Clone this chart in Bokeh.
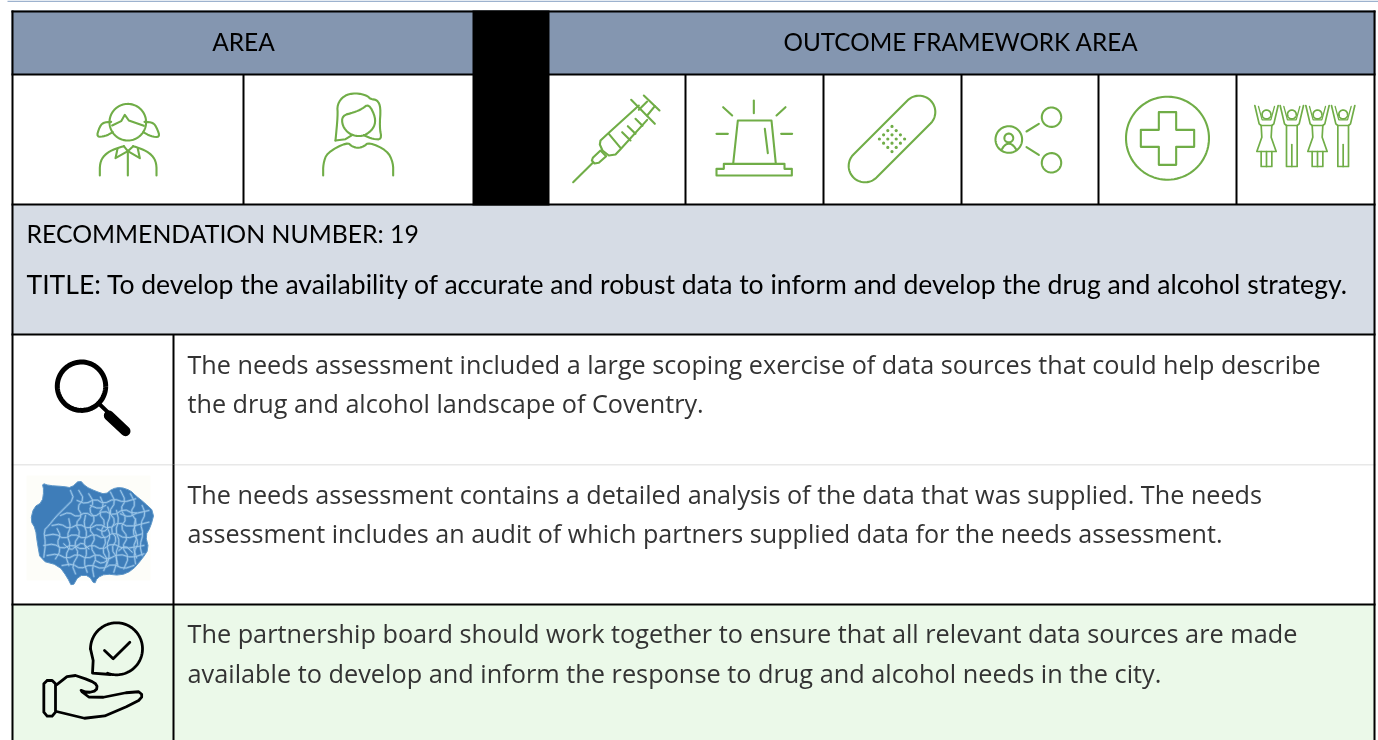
import numpy as np
from bokeh.embed import file_html
from bokeh.models import Range1d
from bokeh.plotting import figure
from bokeh.resources import INLINE
from bokeh.core.properties import value

# ---- content ----
header_labels = ["AREA", "OUTCOME FRAMEWORK AREA"]
recommendation = "RECOMMENDATION NUMBER: 19"
title_line = "TITLE: To develop the availability of accurate and robust data to inform and develop the drug and alcohol strategy."
body_lines = [
    "The needs assessment included a large scoping exercise of data sources that could help describe",
    "the drug and alcohol landscape of Coventry.",
    "The needs assessment contains a detailed analysis of the data that was supplied. The needs",
    "assessment includes an audit of which partners supplied data for the needs assessment.",
    "The partnership board should work together to ensure that all relevant data sources are made",
    "available to develop and inform the response to drug and alcohol needs in the city.",
]

# ---- table grid ----
L, R, T = 11, 1375, 10
icon_dividers = [243, 685, 823, 961, 1098, 1236]
H1, H2, H3, H4, H5 = 74, 204, 334, 464, 604
BLACK, GREEN, HEAD, BAND, PALE = "#000000", "#70AD47", "#8496B0", "#D6DCE5", "#EBF9E9"
HEAD_FONT, BODY_FONT = "Lato", "Open Sans"

p = figure(width=1378, height=740, x_range=Range1d(0, 1378), y_range=Range1d(740, 0),
           output_backend="svg", toolbar_location=None, min_border=0,
           x_axis_type=None, y_axis_type=None, outline_line_color=None,
           background_fill_color="white", border_fill_color="white",
           styles={"position": "fixed", "left": "0", "top": "0"})
p.grid.visible = False


def box(x0, y0, x1, y1, c):
    p.quad(left=[x0], right=[x1], top=[y0], bottom=[y1], fill_color=c, line_color=None)


def chaikin(a, closed, n=2):
    for _ in range(n):
        b = np.roll(a, -1, axis=0) if closed else a[1:]
        c = a if closed else a[:-1]
        q, r = 0.75 * c + 0.25 * b, 0.25 * c + 0.75 * b
        mid = np.empty((2 * len(q), 2))
        mid[0::2], mid[1::2] = q, r
        a = mid if closed else np.vstack([a[0], mid, a[-1]])
    return a


def path(pts, c=GREEN, w=2.1, ox=0.0, oy=0.0, s=1 / 3, close=False, smooth=0):
    a = np.array(pts, dtype=float)
    if smooth:
        a = chaikin(a, close, smooth)
    if close:
        a = np.vstack([a, a[0]])
    p.line(a[:, 0] * s + ox, a[:, 1] * s + oy, line_color=c, line_width=w,
           line_join="round", line_cap="round")


def circle(cx, cy, r, c=GREEN, w=2.1):
    t = np.linspace(0, 2 * np.pi, 90)
    p.line(cx + r * np.cos(t), cy + r * np.sin(t), line_color=c, line_width=w)


# ---- fills ----
box(7, 0, 1378, 1.5, "#9DB2CE")
box(L, T, R, H1, HEAD)
box(L, H3, R, 740, "white")
box(L, H2, R, H3, BAND)
box(L, H5, R, 740, PALE)

# ---- rules ----
box(L, T, R, T + 2, BLACK)
box(L, H1 - 1, R, H1 + 1, BLACK)
box(L, H2 - 1, R, H2 + 1, BLACK)
box(L, H3 - 1, R, H3 + 1, BLACK)
box(L, H4 - 0.5, R, H4 + 1, "#E8E8E8")
box(L, H5 - 1, R, H5 + 1, BLACK)
box(L, T, L + 2, 740, BLACK)
box(R - 2, T, R, 740, BLACK)
box(472, T, 549, H2 + 1, BLACK)
for d in icon_dividers:
    box(d - 1, H1, d + 1, H2, BLACK)
box(172, H3, 174, H4, BLACK)
box(172, H4, 174, 740, BLACK)

# ---- girl ----
circle(127.3, 121.7, 18.3)
path([(335, 375), (362, 362), (373, 343), (385, 360), (430, 376)])
path([(332, 364), (307, 366), (296, 382), (288, 410), (315, 407), (337, 395)], smooth=2)
path([(432, 364), (458, 366), (469, 382), (479, 411), (450, 407), (428, 395)], smooth=2)
path([(298, 525), (298, 488), (310, 465), (335, 448), (370, 437)], smooth=2)
path([(468, 525), (468, 488), (456, 465), (431, 448), (398, 437)], smooth=2)
path([(351, 445), (345, 473), (382, 452), (418, 473), (412, 445)])
path([(370, 437), (382, 452), (398, 437)])
path([(382, 452), (382, 525)])

# ---- woman ----
path([(1005, 420), (1012, 345), (1010, 312), (1030, 285), (1065, 277), (1100, 285), (1110, 296),
      (1130, 298), (1141, 320), (1137, 380), (1144, 417), (1118, 416), (1090, 404)], smooth=2)
path([(1005, 420), (1035, 416), (1056, 403)])
path([(1025, 345), (1060, 336), (1085, 325), (1105, 310), (1125, 350), (1122, 380), (1098, 403),
      (1072, 408), (1045, 400), (1025, 375)], close=True, smooth=2)
path([(968, 525), (968, 490), (980, 456), (1040, 425), (1055, 438), (1072, 443), (1090, 438),
      (1105, 425), (1160, 450), (1178, 486), (1178, 525)], smooth=2)

# ---- syringe ----
OX, OY = 470, 70
path([(308, 335), (367, 277)], ox=OX, oy=OY)
path([(367, 262), (390, 240), (407, 257), (385, 277), (372, 279), (364, 270)], ox=OX, oy=OY, close=True)
path([(505, 105), (415, 187), (390, 210), (388, 222), (396, 240), (415, 255), (435, 252), (450, 236), (530, 148)], ox=OX, oy=OY)
path([(415, 190), (450, 232)], ox=OX, oy=OY)
path([(455, 185), (480, 210)], ox=OX, oy=OY)
path([(472, 167), (495, 190)], ox=OX, oy=OY)
path([(495, 145), (516, 166)], ox=OX, oy=OY)
path([(482, 88), (553, 160)], ox=OX, oy=OY)
path([(505, 118), (530, 93)], ox=OX, oy=OY)
path([(530, 135), (553, 107)], ox=OX, oy=OY)
path([(520, 75), (567, 120)], ox=OX, oy=OY)

# ---- alarm ----
for seg in ([(850, 90), (850, 128)], [(758, 110), (785, 135)], [(945, 110), (918, 135)],
            [(738, 190), (772, 190)], [(932, 190), (965, 190)], [(883, 175), (892, 248)]):
    path(seg, ox=OX, oy=OY)
path([(788, 280), (802, 150), (903, 150), (916, 280)], ox=OX, oy=OY)
path([(738, 315), (738, 295), (760, 295), (760, 280), (942, 280), (942, 295), (964, 295), (964, 315)],
     ox=OX, oy=OY, close=True)

# ---- plaster ----
t1 = np.linspace(np.pi / 4, 5 * np.pi / 4, 40)
t2 = t1 + np.pi
cap_x = np.r_[864.5 + 16.3 * np.cos(t1), 918.5 + 16.3 * np.cos(t2)]
cap_y = np.r_[165.5 + 16.3 * np.sin(t1), 111.5 + 16.3 * np.sin(t2)]
p.line(np.r_[cap_x, cap_x[0]], np.r_[cap_y, cap_y[0]], line_color=GREEN, line_width=2.1)
gi, gj = np.meshgrid(np.arange(4) - 1.5, np.arange(4) - 1.5)
p.scatter((891.5 + (gi + gj) * 4.2).ravel(), (138.5 + (gi - gj) * 4.2).ravel(), size=3.2,
          fill_color=GREEN, line_color=None)

# ---- network ----
circle(1008.3, 139, 13.3)
circle(1051, 116.7, 9.7)
circle(1051, 162.3, 9.7)
circle(1008.3, 137.5, 4.4)
OX = 930
path([(288, 183), (325, 160)], ox=OX, oy=OY)
path([(288, 230), (325, 253)], ox=OX, oy=OY)
path([(213, 238), (222, 224), (235, 218), (248, 224), (258, 238)], ox=OX, oy=OY, smooth=2)

# ---- medical cross ----
circle(1167, 137.7, 41.5)
path([(685, 125), (737, 125), (737, 178), (791, 178), (791, 229), (737, 229), (737, 283), (685, 283),
      (685, 229), (631, 229), (631, 178), (685, 178)], ox=OX, oy=OY, close=True)

# ---- crowd ----
for fx in (1008, 1161):
    dx = fx - 1008
    circle(OX + fx / 3, OY + 44, 4.4, w=1.7)
    path([(973 + dx, 105), (986 + dx, 160), (992 + dx, 165), (1024 + dx, 165), (1030 + dx, 160), (1043 + dx, 105)], w=1.7, ox=OX, oy=OY)
    path([(984 + dx, 108), (995 + dx, 148), (1021 + dx, 148), (1032 + dx, 108)], w=1.3, ox=OX, oy=OY)
    path([(992 + dx, 165), (994 + dx, 200), (979 + dx, 243), (1037 + dx, 243), (1022 + dx, 200), (1024 + dx, 165)], w=1.7, ox=OX, oy=OY)
    path([(992 + dx, 243), (992 + dx, 288), (1024 + dx, 288), (1024 + dx, 243)], w=1.7, ox=OX, oy=OY)
    path([(1008 + dx, 243), (1008 + dx, 288)], w=1.7, ox=OX, oy=OY)
for fx in (1084, 1238):
    dx = fx - 1084
    circle(OX + fx / 3, OY + 44, 4.4, w=1.7)
    path([(1049 + dx, 105), (1062 + dx, 160), (1068 + dx, 165), (1100 + dx, 165), (1106 + dx, 160), (1119 + dx, 105)], w=1.7, ox=OX, oy=OY)
    path([(1060 + dx, 108), (1071 + dx, 148), (1097 + dx, 148), (1108 + dx, 108)], w=1.3, ox=OX, oy=OY)
    path([(1068 + dx, 165), (1068 + dx, 288), (1100 + dx, 288), (1100 + dx, 165)], w=1.7, ox=OX, oy=OY)
    path([(1084 + dx, 222), (1084 + dx, 288)], w=1.7, ox=OX, oy=OY)

# ---- magnifier ----
OX, OY = 0, 330
circle(81, 385.7, 24.2, c=BLACK, w=5)
path([(298, 222), (325, 248)], c=BLACK, w=4, oy=OY)
path([(325, 255), (375, 302)], c=BLACK, w=10, oy=OY)

# ---- map ----
MX, MY = 20, 470
box(26, 475, 150, 580, "#FDFDF9")
outline = [(65, 38), (85, 45), (130, 48), (152, 52), (178, 28), (195, 48), (225, 62), (255, 72), (275, 55),
           (300, 50), (330, 60), (345, 75), (370, 95), (402, 125), (390, 170), (375, 195), (385, 235),
           (365, 265), (335, 300), (300, 315), (255, 310), (230, 322), (222, 342), (205, 315), (175, 315),
           (155, 350), (140, 320), (115, 285), (60, 270), (50, 215), (45, 175), (30, 150), (40, 110),
           (65, 95), (70, 60)]
o = chaikin(np.array(outline, dtype=float), True, 1)
p.patch(o[:, 0] / 3 + MX, o[:, 1] / 3 + MY, fill_color="#3E7DB9", line_color="#5E97C8", line_width=1)
wards = [
    [(150, 60), (160, 85), (130, 115), (105, 140), (85, 165), (70, 180), (75, 220), (70, 260)],
    [(175, 60), (190, 85), (170, 110), (185, 135), (165, 160), (180, 190), (160, 220), (175, 250), (155, 285), (165, 310)],
    [(205, 70), (220, 95), (205, 120), (225, 145), (205, 175), (225, 200), (210, 230), (228, 260), (215, 290), (220, 318)],
    [(240, 80), (250, 105), (235, 130), (255, 155), (240, 185), (258, 210), (245, 240), (262, 270), (250, 300)],
    [(270, 65), (285, 95), (265, 125), (285, 150), (270, 180), (290, 205), (272, 235), (292, 265), (280, 305)],
    [(300, 60), (315, 90), (300, 115), (318, 145), (300, 170), (322, 200), (305, 230), (325, 260), (310, 295)],
    [(330, 70), (345, 100), (330, 125), (350, 155), (335, 185), (355, 215), (340, 245), (345, 280)],
    [(365, 105), (375, 130), (360, 160), (368, 190), (358, 225), (365, 255)],
    [(120, 135), (145, 125), (170, 140), (195, 125), (220, 140), (250, 120), (280, 135), (310, 115), (340, 130), (385, 120)],
    [(95, 165), (120, 160), (145, 175), (175, 160), (205, 175), (235, 160), (265, 175), (295, 155), (325, 170), (385, 155)],
    [(75, 195), (105, 190), (130, 205), (160, 190), (190, 205), (220, 190), (250, 205), (280, 185), (315, 205), (365, 190)],
    [(70, 225), (100, 220), (125, 235), (155, 222), (185, 238), (215, 222), (245, 238), (275, 218), (310, 235), (370, 225)],
    [(80, 255), (110, 250), (140, 265), (170, 250), (200, 265), (230, 250), (260, 268), (295, 250), (335, 262), (370, 250)],
    [(125, 285), (155, 280), (180, 295), (210, 282), (245, 296), (275, 280), (310, 295), (340, 285)],
    [(170, 90), (195, 100), (225, 85), (250, 100), (280, 85), (310, 95), (345, 85)],
    [(110, 175), (120, 195), (110, 215), (120, 240), (105, 265)],
    [(145, 145), (150, 170), (140, 195), (150, 225), (135, 255), (145, 285)],
    [(195, 135), (190, 160), (200, 190), (190, 215), (200, 245), (190, 275), (200, 305)],
    [(262, 110), (270, 135), (258, 165), (270, 195), (258, 225), (268, 255), (258, 285)],
    [(288, 120), (295, 150), (285, 180), (298, 215), (285, 250), (292, 285)],
    [(345, 145), (340, 170), (350, 200), (338, 230), (348, 262)],
    [(210, 105), (235, 115), (255, 105)],
    [(300, 130), (325, 140), (348, 128)],
    [(230, 175), (250, 185), (265, 170)],
    [(165, 230), (185, 215), (205, 235)],
    [(295, 240), (315, 225), (335, 245)],
    [(130, 220), (150, 240), (170, 225)],
    [(225, 270), (245, 280), (270, 262)],
]
for w in wards:
    path(w, c="#5E98CD", w=2.4, ox=MX, oy=MY, smooth=1)
for w in wards:
    path(w, c="#A3CBEA", w=0.9, ox=MX, oy=MY, smooth=1)

# ---- hand ----
OY = 595
t = np.radians(np.linspace(180, 360 + 110, 80))
path(np.c_[348 + 78 * np.cos(t), 160 + 78 * np.sin(t)], c=BLACK, w=2.8, oy=OY)
path([(270, 160), (278, 195), (276, 233), (330, 237)], c=BLACK, w=2.8, oy=OY)
path([(312, 165), (338, 190), (388, 140)], c=BLACK, w=2.8, oy=OY)
path([(140, 255), (155, 255), (165, 265), (165, 350), (155, 362), (140, 362), (130, 350), (130, 265)],
     c=BLACK, w=2.8, oy=OY, close=True)
path([(168, 268), (210, 235), (270, 255), (290, 268), (288, 285), (262, 292), (235, 282), (275, 312),
      (410, 285), (428, 300), (410, 320), (280, 375), (168, 348)], c=BLACK, w=2.8, oy=OY, smooth=1)


# ---- text ----
def label(x, y, t, size, font, color, align="left"):
    p.text([x], [y], text=[t], text_font=value(font), text_font_size=size, text_color=color,
           text_align=align, text_baseline="alphabetic")


label(243, 41, header_labels[0], "24.5px", HEAD_FONT, BLACK, "center")
label(960.5, 41, header_labels[1], "24.3px", HEAD_FONT, BLACK, "center")
label(26, 233, recommendation, "24.8px", HEAD_FONT, BLACK)
label(26, 283, title_line, "26.57px", HEAD_FONT, BLACK)
for y, t, s in zip([363, 402, 493, 532, 632, 672], body_lines,
                   ["25.18px", "25.2px", "25.2px", "25.14px", "25.28px", "25.31px"]):
    label(187, y, t, s, BODY_FONT, "#333333")

open("out.html", "w").write(file_html(p, INLINE))
